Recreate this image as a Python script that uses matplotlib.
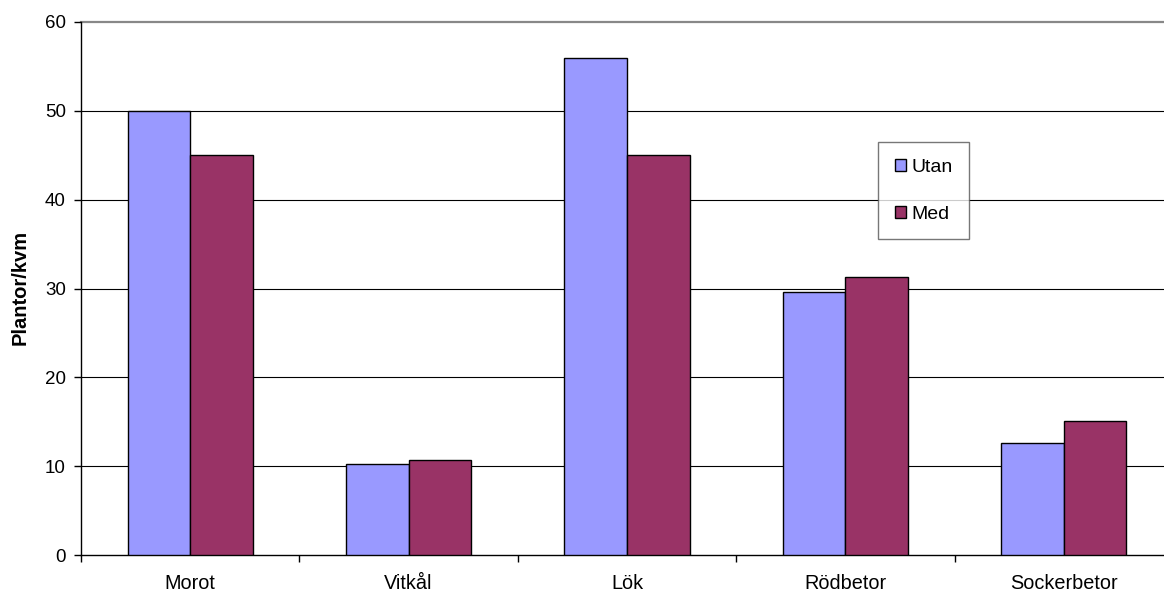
import matplotlib
matplotlib.use("Agg")
import matplotlib.pyplot as plt
import numpy as np

plt.rcParams['font.family'] = ['Liberation Sans', 'DejaVu Sans']

categories = ["Morot", "Vitkål", "Lök", "Rödbetor", "Sockerbetor"]
utan = [50.0, 10.3, 56.0, 29.6, 12.6]
med = [45.0, 10.7, 45.0, 31.3, 15.1]
series_names = ["Utan", "Med"]
y_ticks = [0, 10, 20, 30, 40, 50, 60]

fig = plt.figure(figsize=(11.64, 5.94), dpi=100)
ax = fig.add_axes([81/1164, 39/594, 1092/1164, 533/594])

x = np.arange(len(categories))
w = 0.287
ax.bar(x - w/2, utan, width=w, color="#9999FF", edgecolor="black", linewidth=1.0,
       label=series_names[0], zorder=3)
ax.bar(x + w/2, med, width=w, color="#993366", edgecolor="black", linewidth=1.0,
       label=series_names[1], zorder=3)

ax.set_xlim(-0.5, len(categories) - 0.5)
ax.set_ylim(0, 60)
ax.set_yticks(y_ticks)
ax.tick_params(axis='y', direction='out', length=5, width=1, labelsize=13.5, pad=6)

# category boundaries as major ticks, names centred as minor tick labels
ax.set_xticks(np.arange(len(categories) + 1) - 0.5)
ax.set_xticklabels([])
ax.set_xticks(x, minor=True)
ax.set_xticklabels(categories, minor=True)
ax.tick_params(axis='x', which='major', direction='out', length=5, width=1)
ax.tick_params(axis='x', which='minor', length=0, labelsize=14.3, pad=14)

for v in y_ticks[1:-1]:
    ax.axhline(v, color="black", linewidth=0.8, zorder=1)
ax.axhline(60, color="#888888", linewidth=1.6, zorder=1, clip_on=False)

for s in ["top", "right"]:
    ax.spines[s].set_visible(False)
ax.spines["left"].set_linewidth(1.0)
ax.spines["bottom"].set_linewidth(1.0)

fig.text(20.5/1164, 1 - 287.5/594, "Plantor/kvm", rotation=90, fontsize=14.5,
         fontweight='bold', ha='center', va='center')

leg = fig.legend(loc="upper left", bbox_to_anchor=(878/1164, 1 - 142/594),
                 fontsize=14, frameon=True, fancybox=False, edgecolor="#555555",
                 handlelength=0.57, handleheight=0.57, handletextpad=0.3,
                 labelspacing=1.55, borderpad=0.85, borderaxespad=0)
leg.get_frame().set_linewidth(1.0)
for h in leg.legend_handles:
    h.set_edgecolor("black")
    h.set_linewidth(1.0)

fig.savefig("out.png", dpi=100)
